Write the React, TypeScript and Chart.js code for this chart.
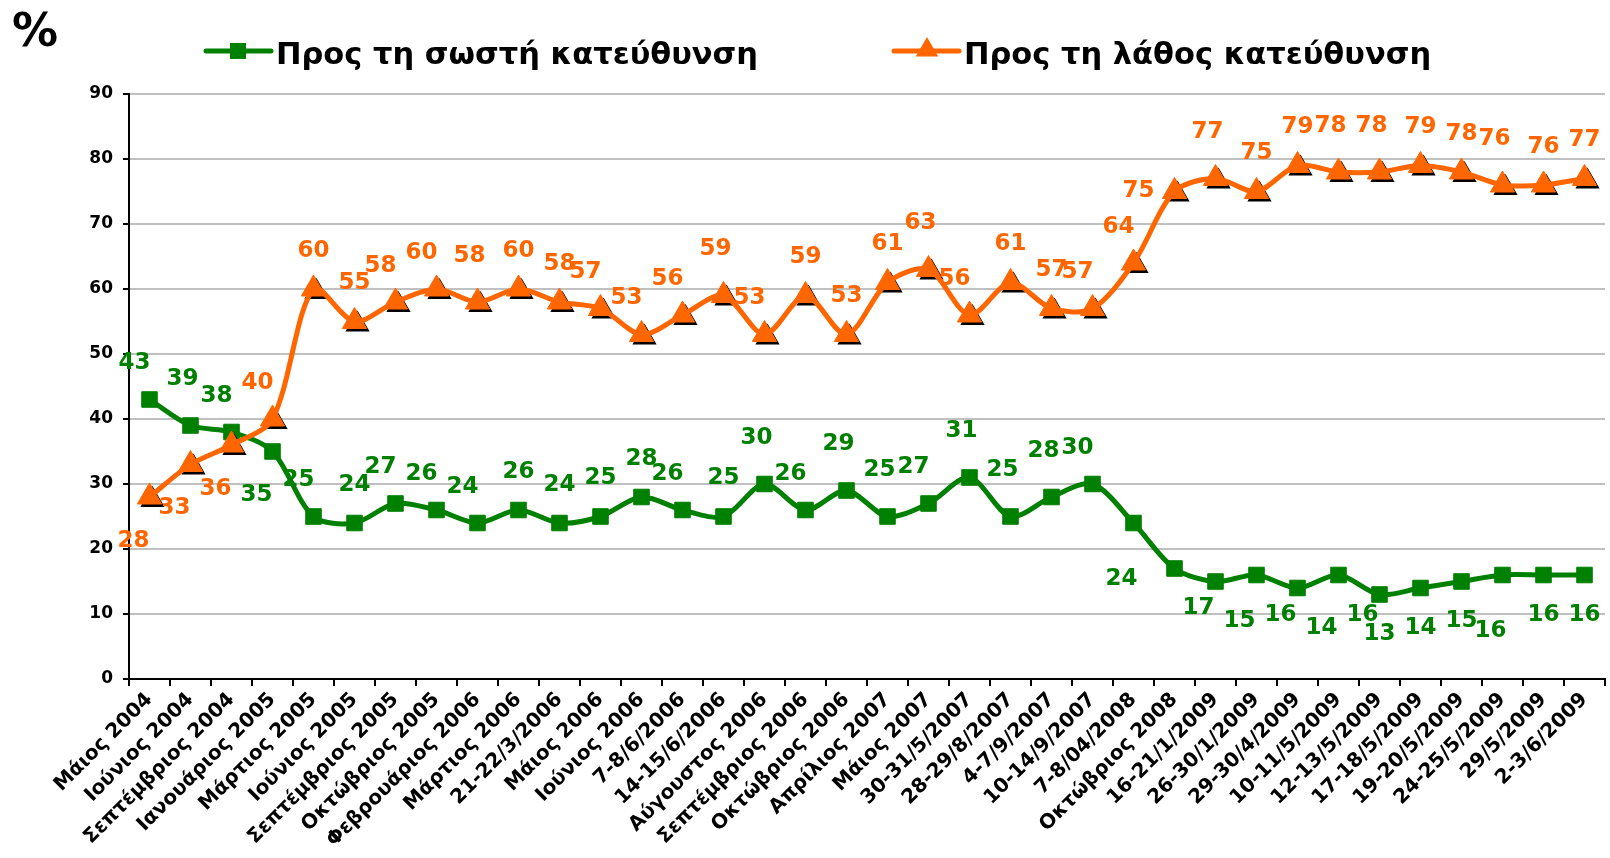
import React, { useEffect, useRef } from "react";
import { Chart, registerables } from "chart.js";

Chart.register(...registerables);

const categories = [
  "Μάιος 2004", "Ιούνιος 2004", "Σεπτέμβριος 2004", "Ιανουάριος 2005", "Μάρτιος 2005",
  "Ιούνιος 2005", "Σεπτέμβριος 2005", "Οκτώβριος 2005", "Φεβρουάριος 2006", "Μάρτιος 2006",
  "21-22/3/2006", "Μάιος 2006", "Ιούνιος 2006", "7-8/6/2006", "14-15/6/2006",
  "Αύγουστος 2006", "Σεπτέμβριος 2006", "Οκτώβριος 2006", "Απρίλιος 2007", "Μάιος 2007",
  "30-31/5/2007", "28-29/8/2007", "4-7/9/2007", "10-14/9/2007", "7-8/04/2008",
  "Οκτώβριος 2008", "16-21/1/2009", "26-30/1/2009", "29-30/4/2009", "10-11/5/2009",
  "12-13/5/2009", "17-18/5/2009", "19-20/5/2009", "24-25/5/2009", "29/5/2009", "2-3/6/2009",
];

const rightDirection = [
  43, 39, 38, 35, 25, 24, 27, 26, 24, 26, 24, 25, 28, 26, 25, 30, 26, 29,
  25, 27, 31, 25, 28, 30, 24, 17, 15, 16, 14, 16, 13, 14, 15, 16, 16, 16,
];

const wrongDirection = [
  28, 33, 36, 40, 60, 55, 58, 60, 58, 60, 58, 57, 53, 56, 59, 53, 59, 53,
  61, 63, 56, 61, 57, 57, 64, 75, 77, 75, 79, 78, 78, 79, 78, 76, 76, 77,
];

const yTickValues = [0, 10, 20, 30, 40, 50, 60, 70, 80, 90];

const seriesNames = ["Προς τη σωστή κατεύθυνση", "Προς τη λάθος κατεύθυνση"];

// label placement codes (T=top, TT=higher top, TL=top-left, B=bottom, BB=lower bottom, BL, BR, L=left)
const rightLabelPlace = [
  "TL", "TT", "TL", "BL", "TL", "T", "TL", "TL", "TL", "T", "T", "T", "T", "TL", "T", "TT", "TL", "TT",
  "TT", "TL", "TT", "TT", "TT", "TL", "BB", "BR", "BR", "BR", "BR", "BR", "B", "B", "B", "BB", "B", "B",
];
const wrongLabelPlace = [
  "BL", "BL", "BL", "TL", "T", "T", "TL", "TL", "TT", "T", "T", "TL", "TL", "TL", "TT", "TL", "T", "T",
  "T", "TT", "TL", "T", "T", "TL", "TL", "L", "TT", "T", "T", "TT", "TT", "T", "T", "TT", "T", "T",
];

const GREEN = "#008000";
const ORANGE = "#FF6600";
const FONT = "'DejaVu Sans', Verdana, sans-serif";

const placeOffset: Record<string, [number, number]> = {
  T: [0, -38],
  TT: [-8, -46],
  TL: [-15, -36],
  B: [0, 40],
  BB: [-12, 56],
  BL: [-16, 44],
  BR: [24, 40],
  L: [-36, 0],
};

const TRI_R = 14;

function triangle(ctx: CanvasRenderingContext2D, x: number, y: number, r: number) {
  const s = Math.sin(Math.PI / 3) * r;
  ctx.beginPath();
  ctx.moveTo(x, y - r);
  ctx.lineTo(x - s, y + r / 2);
  ctx.lineTo(x + s, y + r / 2);
  ctx.closePath();
  ctx.fill();
}

const decorPlugin = {
  id: "decor",
  beforeDatasetDraw(chart: any, args: any) {
    if (args.index !== 1) return;
    const ctx = chart.ctx;
    ctx.save();
    ctx.fillStyle = "#000";
    args.meta.data.forEach((pt: any) => {
      triangle(ctx, pt.x + 3, pt.y + 3, TRI_R);
    });
    ctx.restore();
  },
  afterDatasetsDraw(chart: any) {
    const ctx = chart.ctx;
    ctx.save();
    ctx.font = `bold 23px ${FONT}`;
    ctx.textAlign = "center";
    ctx.textBaseline = "middle";
    const sets: [number, string, string[]][] = [
      [0, GREEN, rightLabelPlace],
      [1, ORANGE, wrongLabelPlace],
    ];
    sets.forEach(([di, color, places]) => {
      const meta = chart.getDatasetMeta(di);
      const values = chart.data.datasets[di].data as number[];
      ctx.fillStyle = color;
      meta.data.forEach((pt: any, i: number) => {
        const [dx, dy] = placeOffset[places[i]] || placeOffset.T;
        ctx.fillText(String(values[i]), pt.x + dx, pt.y + dy);
      });
    });
    ctx.restore();
  },
  afterDraw(chart: any) {
    const ctx = chart.ctx;
    ctx.save();
    ctx.fillStyle = "#000";
    ctx.font = `bold 46px ${FONT}`;
    ctx.textAlign = "left";
    ctx.textBaseline = "alphabetic";
    ctx.fillText("%", 12, 46);

    const ly = 51;
    ctx.strokeStyle = GREEN;
    ctx.lineWidth = 5;
    ctx.lineCap = "round";
    ctx.beginPath();
    ctx.moveTo(206, ly);
    ctx.lineTo(271, ly);
    ctx.stroke();
    ctx.fillStyle = GREEN;
    ctx.fillRect(238 - 8, ly - 8, 16, 16);

    ctx.strokeStyle = ORANGE;
    ctx.beginPath();
    ctx.moveTo(894, ly);
    ctx.lineTo(959, ly);
    ctx.stroke();
    ctx.fillStyle = ORANGE;
    triangle(ctx, 927, ly - 1, 13);

    ctx.fillStyle = "#000";
    ctx.font = `bold 30.5px ${FONT}`;
    ctx.fillText(seriesNames[0], 276, 64);
    ctx.fillText(seriesNames[1], 964, 64);
    ctx.restore();
  },
};

export default function App() {
  const canvasRef = useRef<HTMLCanvasElement | null>(null);

  useEffect(() => {
    const canvas = canvasRef.current;
    if (!canvas) return;
    Chart.defaults.font.family = FONT;
    const chart = new Chart(canvas, {
      type: "line",
      data: {
        labels: categories,
        datasets: [
          {
            label: seriesNames[0],
            data: rightDirection,
            borderColor: GREEN,
            backgroundColor: GREEN,
            borderWidth: 5,
            tension: 0.3,
            pointStyle: "rect",
            pointRadius: 11,
            pointHoverRadius: 11,
            pointBackgroundColor: GREEN,
            pointBorderColor: GREEN,
            pointBorderWidth: 1,
            order: 1,
          },
          {
            label: seriesNames[1],
            data: wrongDirection,
            borderColor: ORANGE,
            backgroundColor: ORANGE,
            borderWidth: 5,
            tension: 0.3,
            pointStyle: "triangle",
            pointRadius: TRI_R,
            pointHoverRadius: TRI_R,
            pointBackgroundColor: ORANGE,
            pointBorderColor: ORANGE,
            pointBorderWidth: 1,
            order: 0,
          },
        ],
      },
      options: {
        responsive: false,
        animation: false,
        events: [],
        layout: { padding: { top: 94, right: 2, left: 0, bottom: 0 } },
        plugins: {
          legend: { display: false },
          tooltip: { enabled: false },
          title: { display: false },
        },
        scales: {
          x: {
            type: "category",
            offset: true,
            grid: {
              display: true,
              offset: true,
              drawOnChartArea: false,
              drawTicks: true,
              tickLength: 7,
              tickColor: "#000",
              tickWidth: 2,
              color: "#000",
              lineWidth: 2,
            },
            border: { display: true, color: "#000", width: 2 },
            ticks: {
              autoSkip: false,
              maxRotation: 45,
              minRotation: 45,
              padding: 2,
              color: "#000",
              font: { family: FONT, size: 20, weight: "bold" },
            },
            afterFit: (scale: any) => {
              scale.height = 179;
            },
          },
          y: {
            min: 0,
            max: 90,
            afterBuildTicks: (scale: any) => {
              scale.ticks = yTickValues.map((v) => ({ value: v }));
            },
            grid: {
              color: "#c0c0c0",
              lineWidth: 2,
              drawTicks: true,
              tickLength: 6,
              tickColor: "#000",
              tickWidth: 2,
            },
            border: { display: true, color: "#000", width: 2 },
            ticks: {
              padding: 10,
              color: "#000",
              font: { family: FONT, size: 17, weight: "bold" },
            },
            afterFit: (scale: any) => {
              scale.width = 129;
            },
          },
        },
      },
      plugins: [decorPlugin],
    });
    return () => chart.destroy();
  }, []);

  return (
    <div
      style={{
        position: "fixed",
        left: 0,
        top: 0,
        width: 1610,
        height: 858,
        overflow: "hidden",
        background: "#fff",
      }}
    >
      <canvas ref={canvasRef} width={1620} height={858} style={{ width: 1620, height: 858, display: "block" }} />
    </div>
  );
}
